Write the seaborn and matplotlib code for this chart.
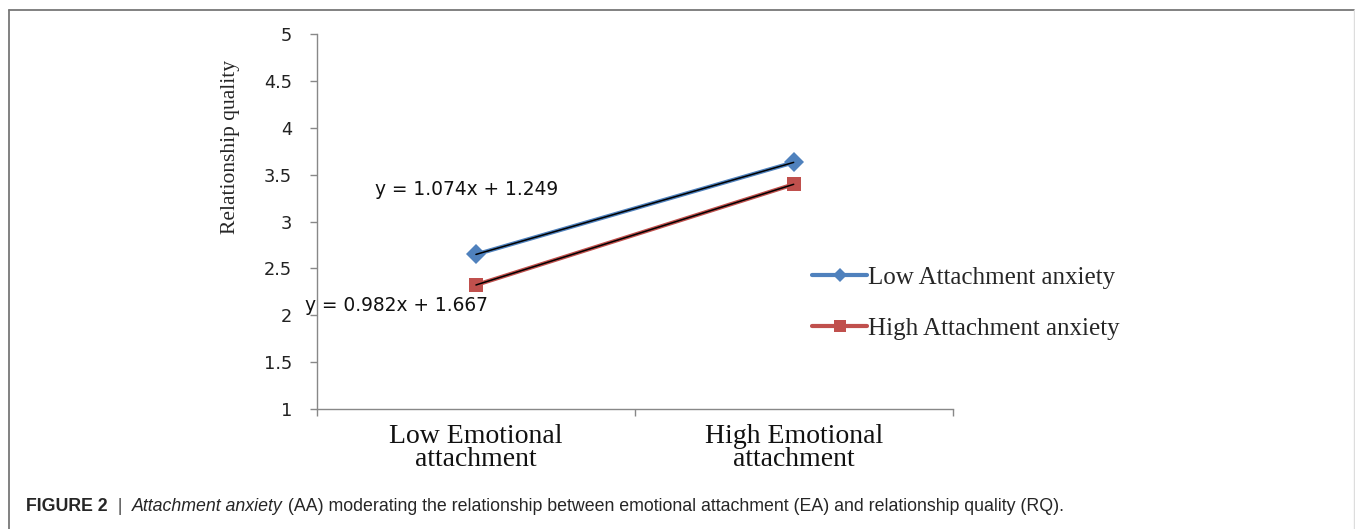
import matplotlib
matplotlib.use("Agg")
import matplotlib.pyplot as plt
import seaborn as sns
import pandas as pd
from matplotlib.lines import Line2D

categories = ["Low Emotional\nattachment", "High Emotional\nattachment"]
low_anxiety = [2.649, 3.631]
high_anxiety = [2.323, 3.397]
series_names = ["Low Attachment anxiety", "High Attachment anxiety"]
eq_low = "y = 1.074x + 1.249"
eq_high = "y = 0.982x + 1.667"
y_ticks = [1, 1.5, 2, 2.5, 3, 3.5, 4, 4.5, 5]
y_tick_labels = ["1", "1.5", "2", "2.5", "3", "3.5", "4", "4.5", "5"]

sns.set_style("white")
plt.rcParams["font.family"] = ["DejaVu Sans"]

df = pd.DataFrame({
    "x": list(range(len(categories))) * 2,
    "y": low_anxiety + high_anxiety,
    "series": [series_names[0]] * 2 + [series_names[1]] * 2,
})

fig = plt.figure(figsize=(13.55, 5.29), dpi=100)
ax = fig.add_axes([0.234, 0.2268, 0.469, 0.7089])

blue = "#4F81BD"
red = "#C0504D"
sns.lineplot(data=df, x="x", y="y", hue="series", style="series",
             palette=[blue, red], markers=["D", "s"], dashes=False,
             markersize=10.5, linewidth=3, markeredgewidth=0, ax=ax, legend=False)
# trendlines (thin black)
for vals in (low_anxiety, high_anxiety):
    sns.lineplot(x=list(range(len(categories))), y=vals, color="black",
                 linewidth=1.1, ax=ax, legend=False)

ax.set_xlim(-0.5, 1.5)
ax.set_ylim(1, 5)
ax.set_yticks(y_ticks)
ax.set_yticklabels(y_tick_labels, family=["DejaVu Sans"], fontsize=12.8, color="#222222")
ax.set_xticks([0, 1])
ax.set_xticklabels(categories, family=["Liberation Serif"], fontsize=20, color="#111111",
                   linespacing=0.9)
ax.set_xticks([-0.5, 0.5, 1.5], minor=True)
ax.tick_params(axis="x", which="major", length=0, pad=10.5)
ax.tick_params(axis="x", which="minor", length=5, color="#888888", width=1, direction="out")
ax.tick_params(axis="y", length=5, color="#888888", width=1, direction="out", pad=13)
ax.tick_params(left=True, bottom=True, which="both")
ax.set_xlabel("")
ax.set_ylabel("Relationship quality", family=["Liberation Serif"], fontsize=15.5, va="center")
ax.yaxis.set_label_coords(-0.136, 0.70)
for s in ["top", "right"]:
    ax.spines[s].set_visible(False)
for s in ["left", "bottom"]:
    ax.spines[s].set_color("#888888")
    ax.spines[s].set_linewidth(1)

ax.text(-0.318, 3.345, eq_low, fontsize=13.4, family=["DejaVu Sans"], color="#111111",
        ha="left", va="center")
ax.text(-0.538, 2.105, eq_high, fontsize=13.4, family=["DejaVu Sans"], color="#111111",
        ha="left", va="center")

# legend
handles = [Line2D([], [], color=blue, marker="D", markersize=7, linewidth=3, markeredgewidth=0),
           Line2D([], [], color=red, marker="s", markersize=8, linewidth=3, markeredgewidth=0)]
leg = fig.legend(handles, series_names, loc="center left", bbox_to_anchor=(0.5827, 0.427),
                 frameon=False, prop={"family": "Liberation Serif", "size": 18},
                 handlelength=2.2, handletextpad=0.05, labelspacing=1.12)

# figure frame
fig.add_artist(Line2D([9/1355, 9/1355], [0, 1 - 9.5/529], transform=fig.transFigure, color="#777777", lw=1.3))
fig.add_artist(Line2D([9/1355, 1353.5/1355], [1 - 9.5/529, 1 - 9.5/529], transform=fig.transFigure, color="#777777", lw=1.3))
fig.add_artist(Line2D([1353.5/1355, 1353.5/1355], [0, 1 - 9.5/529], transform=fig.transFigure, color="#dddddd", lw=1.0))

# caption
cap_font = ["Liberation Sans", "DejaVu Sans"]
y_cap = 1 - 515/529
t1 = fig.text(26/1355, y_cap, "FIGURE 2", fontsize=12.8, weight="bold", family=cap_font, va="bottom")
t2 = ax.annotate("  |  ", xy=(1, 0), xycoords=t1, va="bottom", fontsize=12.8, family=cap_font,
                 color="#555555", annotation_clip=False)
t3 = ax.annotate("Attachment anxiety", xy=(1, 0), xycoords=t2, va="bottom", fontsize=12.8,
                 style="italic", family=cap_font, annotation_clip=False)
t4 = ax.annotate(" (AA) moderating the relationship between emotional attachment (EA) and relationship quality (RQ).",
                 xy=(1, 0), xycoords=t3, va="bottom", fontsize=12.8, family=cap_font, annotation_clip=False)

fig.savefig("out.png", dpi=100)
